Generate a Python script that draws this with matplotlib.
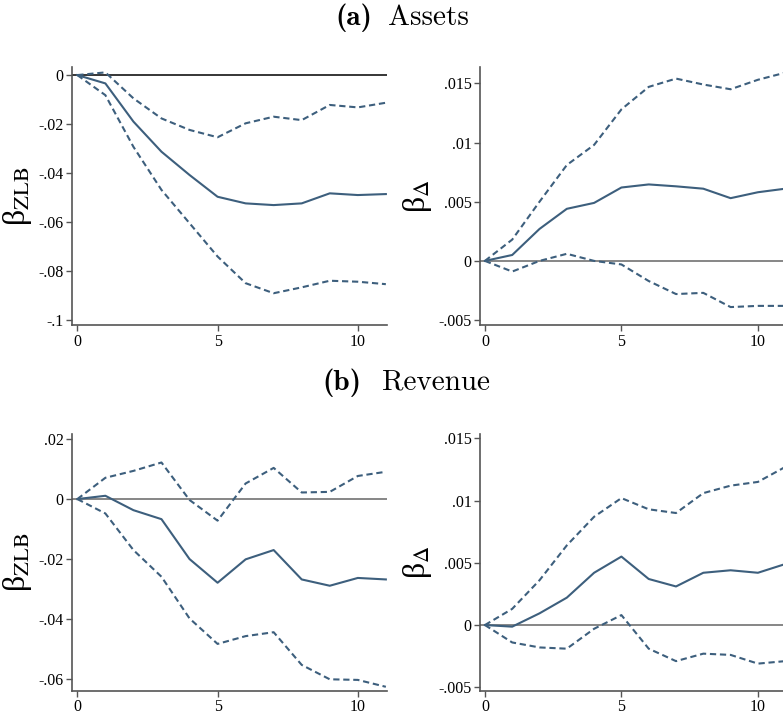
import os
import numpy as np
import matplotlib
matplotlib.use("Agg")
import matplotlib.pyplot as plt
from matplotlib.font_manager import FontProperties

plt.rcParams['font.family'] = ['Liberation Serif', 'DejaVu Serif']
plt.rcParams['mathtext.fontset'] = 'stix'

horizon = np.arange(12)

# (a) Assets
assets_zlb = [0, -0.0034, -0.019, -0.0313, -0.0408, -0.0497, -0.0524, -0.0531, -0.0524, -0.0483, -0.049, -0.0486]
assets_zlb_hi = [0, 0.0011, -0.0095, -0.0177, -0.0224, -0.0254, -0.0197, -0.017, -0.0184, -0.0122, -0.0132, -0.0113]
assets_zlb_lo = [0, -0.0082, -0.0293, -0.0469, -0.0605, -0.0741, -0.085, -0.0891, -0.0867, -0.084, -0.0844, -0.0854]

assets_delta = [0, 0.0005, 0.0027, 0.0044, 0.0049, 0.0062, 0.00646, 0.0063, 0.0061, 0.0053, 0.0058, 0.0061]
assets_delta_hi = [0, 0.0018, 0.0050, 0.0081, 0.0098, 0.0128, 0.0147, 0.0154, 0.0149, 0.0145, 0.0153, 0.0159]
assets_delta_lo = [0, -0.0009, 0.0, 0.0006, 0.0, -0.0003, -0.0017, -0.0028, -0.0027, -0.0039, -0.0038, -0.0038]

# (b) Revenue
rev_zlb = [0, 0.0011, -0.0037, -0.0067, -0.020, -0.0279, -0.0201, -0.017, -0.0268, -0.0289, -0.0263, -0.0268]
rev_zlb_hi = [0, 0.0071, 0.0094, 0.0122, -0.0003, -0.0072, 0.0052, 0.0104, 0.0022, 0.0024, 0.0077, 0.0091]
rev_zlb_lo = [0, -0.0048, -0.017, -0.0259, -0.0398, -0.0483, -0.0457, -0.0444, -0.0553, -0.0601, -0.0603, -0.0626]

rev_delta = [0, -0.00013, 0.00094, 0.0022, 0.0042, 0.0055, 0.0037, 0.0031, 0.0042, 0.0044, 0.0042, 0.0049]
rev_delta_hi = [0, 0.0013, 0.0036, 0.0064, 0.0087, 0.0102, 0.0093, 0.009, 0.0106, 0.0112, 0.0115, 0.0127]
rev_delta_lo = [0, -0.0014, -0.0018, -0.0019, -0.0003, 0.0008, -0.0019, -0.0029, -0.0023, -0.0024, -0.0031, -0.0029]

zlb_ticks_a = [0, -0.02, -0.04, -0.06, -0.08, -0.1]
zlb_labels_a = ['0', '-.02', '-.04', '-.06', '-.08', '-.1']
delta_ticks = [-0.005, 0, 0.005, 0.01, 0.015]
delta_labels = ['-.005', '0', '.005', '.01', '.015']
zlb_ticks_b = [0.02, 0, -0.02, -0.04, -0.06]
zlb_labels_b = ['.02', '0', '-.02', '-.04', '-.06']

line_col = '#3d5f7d'
spine_col = '#555555'

# computer modern fonts shipped with matplotlib, for the panel headings
ttf_dir = os.path.join(matplotlib.get_data_path(), 'fonts', 'ttf')
cm_bold = FontProperties(fname=os.path.join(ttf_dir, 'cmb10.ttf'), size=21)
cm_roman = FontProperties(fname=os.path.join(ttf_dir, 'cmr10.ttf'), size=21)

fig = plt.figure(figsize=(7.83, 7.15), dpi=100)


def panel(rect, est, hi, lo, ylim, xlim, ticks, labels, ylab, zero_col):
    ax = fig.add_axes(rect)
    ax.axhline(0, color=zero_col, lw=1.1, zorder=1)
    ax.plot(horizon, est, color=line_col, lw=1.5, zorder=3)
    for band in (hi, lo):
        ax.plot(horizon, band, color=line_col, lw=1.5, dashes=(3.0, 1.8), zorder=3)
    ax.set_xlim(*xlim)
    ax.set_ylim(*ylim)
    ax.set_xticks([0, 5, 10])
    ax.set_yticks(ticks)
    ax.set_yticklabels(labels)
    ax.tick_params(labelsize=11.5, length=4, width=1, color=spine_col, pad=2)
    for s in ('top', 'right'):
        ax.spines[s].set_visible(False)
    for s in ('left', 'bottom'):
        ax.spines[s].set_color(spine_col)
        ax.spines[s].set_linewidth(1.2)
    ax.set_ylabel('β$_{\\mathrm{' + ylab + '}}$' if ylab != 'D' else 'β$_{\\Delta}$',
                  fontsize=23, labelpad=3)
    return ax


left_l, width_l = 72 / 783, 314.7 / 783
left_r, width_r = 480 / 783, 305.2 / 783
top_b, top_h = 1 - 325.3 / 715, 258.3 / 715
bot_b, bot_h = 1 - 691 / 715, 257 / 715

panel([left_l, top_b, width_l, top_h], assets_zlb, assets_zlb_hi, assets_zlb_lo,
      (-0.1022, 0.0033), (-0.19, 11.03), zlb_ticks_a, zlb_labels_a, 'ZLB', 'black')
panel([left_r, top_b, width_r, top_h], assets_delta, assets_delta_hi, assets_delta_lo,
      (-0.00544, 0.01638), (-0.18, 11), delta_ticks, delta_labels, 'D', '#666666')
panel([left_l, bot_b, width_l, bot_h], rev_zlb, rev_zlb_hi, rev_zlb_lo,
      (-0.064, 0.0217), (-0.19, 11.03), zlb_ticks_b, zlb_labels_b, 'ZLB', '#666666')
panel([left_r, bot_b, width_r, bot_h], rev_delta, rev_delta_hi, rev_delta_lo,
      (-0.0053, 0.01535), (-0.18, 11), delta_ticks, delta_labels, 'D', '#666666')

# panel headings: bold tag + roman name
fig.text(372 / 783, 1 - 25 / 715, '(a)', ha='right', va='baseline', fontproperties=cm_bold)
fig.text(388 / 783, 1 - 25 / 715, 'Assets', ha='left', va='baseline', fontproperties=cm_roman)
fig.text(361 / 783, 1 - 390 / 715, '(b)', ha='right', va='baseline', fontproperties=cm_bold)
fig.text(382 / 783, 1 - 390 / 715, 'Revenue', ha='left', va='baseline', fontproperties=cm_roman)

fig.savefig('out.png', dpi=100)
